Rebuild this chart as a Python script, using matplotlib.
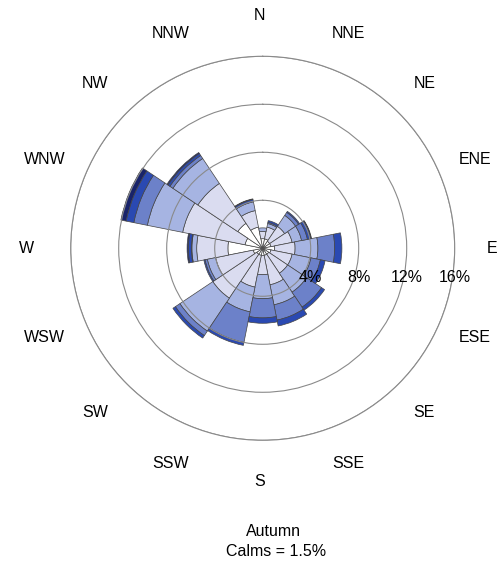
"""Autumn wind rose: 16 sectors, stacked by wind-speed class."""
import numpy as np
import matplotlib
matplotlib.use("Agg")
import matplotlib.pyplot as plt
from matplotlib.transforms import offset_copy

plt.rcParams["font.family"] = ["Liberation Sans", "DejaVu Sans"]

directions = ["N", "NNE", "NE", "ENE", "E", "ESE", "SE", "SSE",
              "S", "SSW", "SW", "WSW", "W", "WNW", "NW", "NNW"]

# frequency (%) per speed class, sector order as above
cls1 = [0.8, 0.8, 0.7, 0.7, 1.0, 0.7, 0.6, 0.6, 0.6, 0.6, 0.6, 0.8, 2.9, 1.5, 2.5, 1.8]
cls2 = [0.6, 1.0, 1.5, 1.8, 1.7, 1.8, 1.9, 2.5, 1.6, 2.7, 4.4, 3.2, 2.6, 5.3, 4.0, 1.4]
cls3 = [0.3, 0.3, 1.1, 0.8, 1.9, 1.6, 1.9, 1.7, 2.0, 2.1, 3.3, 0.7, 0.4, 3.0, 2.5, 0.75]
cls4 = [0.0, 0.1, 0.3, 0.5, 1.4, 0.8, 1.5, 1.3, 1.6, 2.6, 0.45, 0.2, 0.05, 1.15, 0.3, 0.0]
cls5 = [0.0, 0.15, 0.1, 0.3, 0.6, 0.4, 0.3, 0.5, 0.45, 0.25, 0.25, 0.1, 0.25, 0.65, 0.2, 0.2]
cls6 = [0.0, 0.0, 0.0, 0.05, 0.0, 0.0, 0.0, 0.0, 0.0, 0.0, 0.0, 0.0, 0.1, 0.45, 0.1, 0.05]

calms = 1.5
season = "Autumn"
rings = [4, 8, 12, 16]

colors = ["#ffffff", "#dadcf0", "#a6b4e2", "#6c81c9", "#2a49b2", "#18236a"]

fig = plt.figure(figsize=(5.01, 5.73), dpi=100)
ax = fig.add_axes([0.1411, 0.2316, 0.7665, 0.6702], projection="polar")
ax.set_theta_zero_location("N")
ax.set_theta_direction(-1)

theta = np.deg2rad(np.arange(len(directions)) * 22.5)
width = 2 * np.pi / len(directions)

bottom = np.zeros(len(directions))
for vals, col in zip([cls1, cls2, cls3, cls4, cls5, cls6], colors):
    vals = np.asarray(vals)
    keep = vals > 0
    ax.bar(theta[keep], vals[keep], width=width, bottom=bottom[keep],
           color=col, edgecolor="#454545", linewidth=0.5, align="center")
    bottom += vals

ax.set_ylim(0, rings[-1])
ax.set_yticks(rings)
ax.set_yticklabels([])
ax.set_xticks([])
ax.xaxis.grid(False)
ax.yaxis.grid(True, color="#8a8a8a", linewidth=0.8)
ax.set_axisbelow(False)
ax.spines["polar"].set_color("#8a8a8a")
ax.spines["polar"].set_linewidth(0.8)

# compass names outside the outer ring
names_tr = offset_copy(ax.transData, fig=fig, x=-3, y=0, units="dots")
for t, name in zip(theta, directions):
    ax.text(t, 19.4, name, transform=names_tr, ha="center", va="center",
            fontsize=11.5, clip_on=False)

# ring labels in a row just below the centre
below = offset_copy(ax.transData, fig=fig, x=0, y=-29, units="dots")
for r in rings:
    ax.text(np.pi / 2, r, f"{r}%", transform=below, ha="center", va="center",
            fontsize=11.5, clip_on=False)

fig.text(0.545, 0.0716, season, ha="center", va="center", fontsize=11.5)
fig.text(0.551, 0.0375, f"Calms = {calms}%", ha="center", va="center", fontsize=11.5)

fig.savefig("out.png", dpi=100)
